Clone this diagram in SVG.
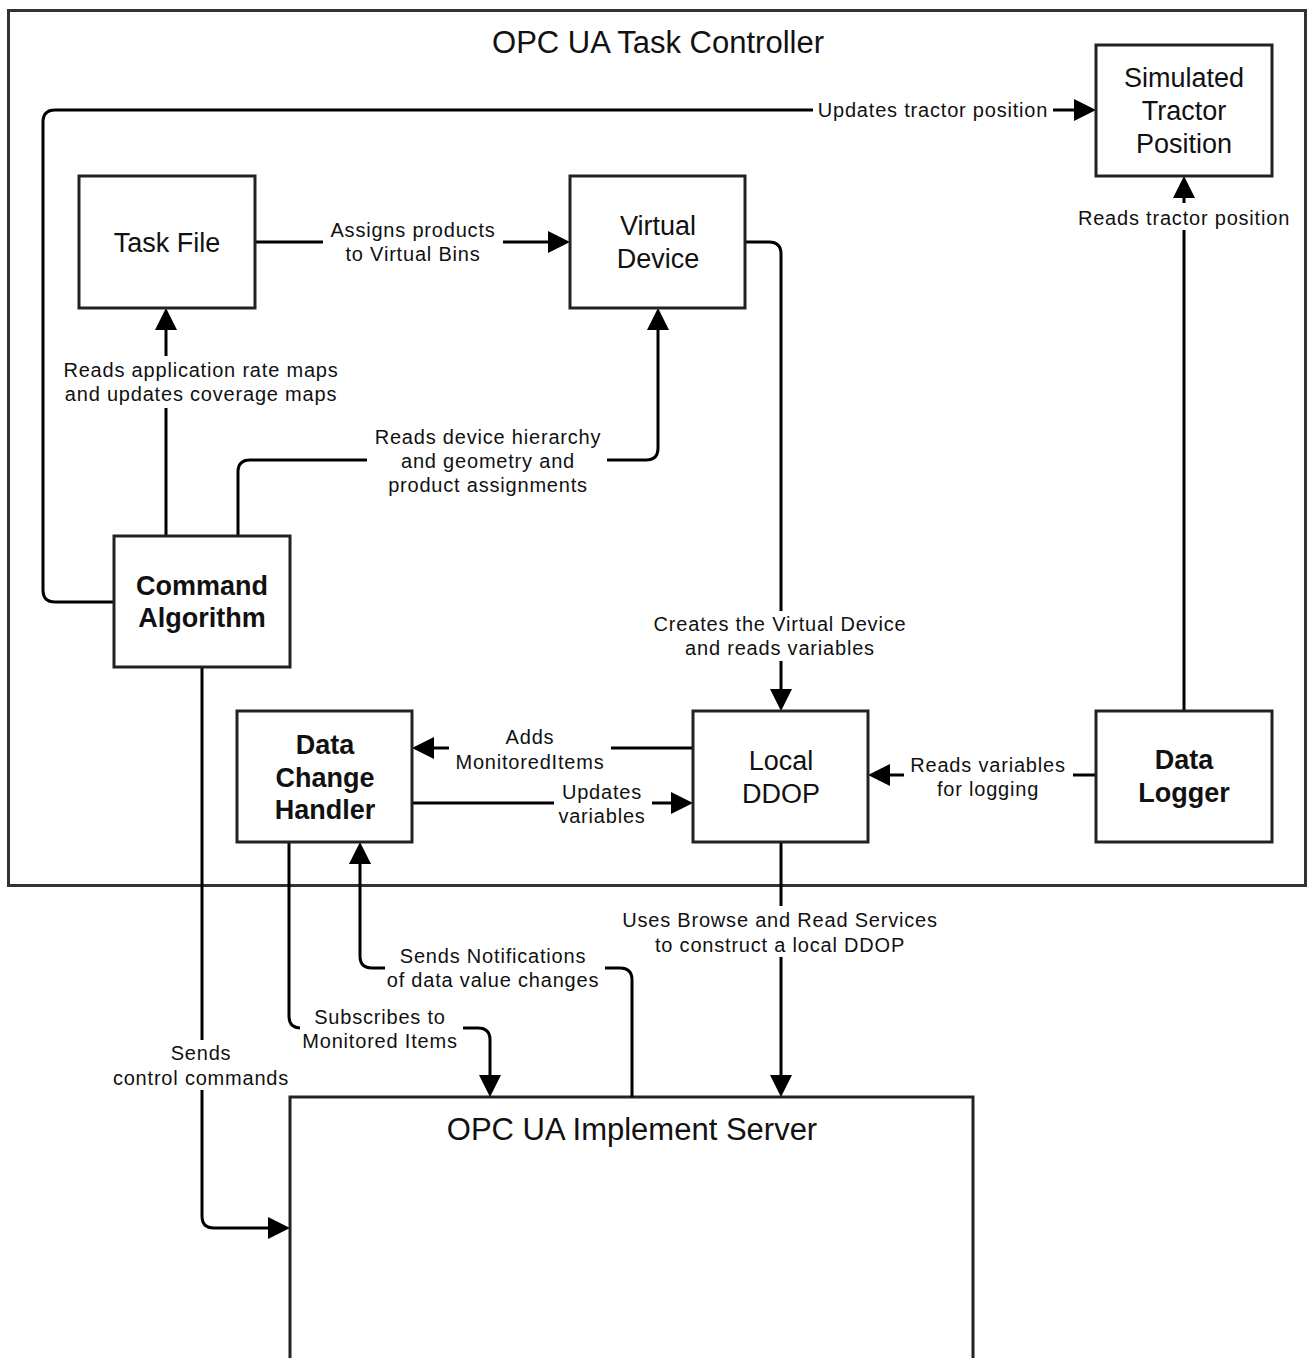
<svg xmlns="http://www.w3.org/2000/svg" width="1307" height="1358" viewBox="0 0 1307 1358">
<defs>
<style>
.box{fill:#fff;stroke:#222;stroke-width:3}
.frame{fill:none;stroke:#333;stroke-width:3}
.conn{fill:none;stroke:#000;stroke-width:3}
.bg{fill:#fff;stroke:none}
.lbl{font-family:"Liberation Sans",Arial,sans-serif;font-size:20px;letter-spacing:0.8px;text-anchor:middle;fill:#111}
.nt{font-family:"Liberation Sans",Arial,sans-serif;font-size:27px;text-anchor:middle;fill:#111}
.nb{font-family:"Liberation Sans",Arial,sans-serif;font-size:27px;font-weight:bold;text-anchor:middle;fill:#111}
.title{font-family:"Liberation Sans",Arial,sans-serif;font-size:31px;text-anchor:middle;fill:#111}
</style>
<marker id="arr" markerUnits="userSpaceOnUse" markerWidth="24" markerHeight="24" refX="18" refY="11" orient="auto">
<path d="M0,0 L22,11 L0,22 Z" fill="#000"/>
</marker>
</defs>
<rect width="1307" height="1358" fill="#fff"/>

<g id="task-controller">
<rect class="frame" x="8.5" y="10.5" width="1297" height="875"/>
<text class="title" x="658" y="53">OPC UA Task Controller</text>
</g>

<g id="server">
<rect class="box" x="290" y="1097" width="683" height="300"/>
<text class="title" x="632" y="1140">OPC UA Implement Server</text>
</g>

<g id="connectors">
<path class="conn" marker-end="url(#arr)" d="M114,602 H55 Q43,602 43,590 V122 Q43,110 55,110 H1092"/>
<path class="conn" marker-end="url(#arr)" d="M255,242 H566"/>
<path class="conn" marker-end="url(#arr)" d="M166,536 V312"/>
<path class="conn" marker-end="url(#arr)" d="M238,536 V472 Q238,460 250,460 H646 Q658,460 658,448 V312"/>
<path class="conn" marker-end="url(#arr)" d="M745,242 H769 Q781,242 781,254 V707"/>
<path class="conn" marker-end="url(#arr)" d="M1184,711 V180"/>
<path class="conn" marker-end="url(#arr)" d="M693,748 H416"/>
<path class="conn" marker-end="url(#arr)" d="M412,803 H689"/>
<path class="conn" marker-end="url(#arr)" d="M1096,775 H872"/>
<path class="conn" marker-end="url(#arr)" d="M781,842 V1093"/>
<path class="conn" marker-end="url(#arr)" d="M632,1097 V980 Q632,968 620,968 H372 Q360,968 360,956 V846"/>
<path class="conn" marker-end="url(#arr)" d="M289,842 V1016 Q289,1028 301,1028 H478 Q490,1028 490,1040 V1093"/>
<path class="conn" marker-end="url(#arr)" d="M202,667 V1216 Q202,1228 214,1228 H286"/>
</g>

<g id="labels">
<rect class="bg" x="813" y="98" width="240" height="26"/>
<text class="lbl" x="933" y="117">Updates tractor position</text>
<rect class="bg" x="323" y="216" width="180" height="50"/>
<text class="lbl" x="413" y="237">Assigns products</text>
<text class="lbl" x="413" y="261">to Virtual Bins</text>
<rect class="bg" x="58" y="356" width="286" height="52"/>
<text class="lbl" x="201" y="377">Reads application rate maps</text>
<text class="lbl" x="201" y="401">and updates coverage maps</text>
<rect class="bg" x="367" y="423" width="240" height="74"/>
<text class="lbl" x="488" y="444">Reads device hierarchy</text>
<text class="lbl" x="488" y="468">and geometry and</text>
<text class="lbl" x="488" y="492">product assignments</text>
<rect class="bg" x="1073" y="203" width="222" height="27"/>
<text class="lbl" x="1184" y="225">Reads tractor position</text>
<rect class="bg" x="652" y="611" width="256" height="50"/>
<text class="lbl" x="780" y="631">Creates the Virtual Device</text>
<text class="lbl" x="780" y="655">and reads variables</text>
<rect class="bg" x="449" y="724" width="162" height="50"/>
<text class="lbl" x="530" y="744">Adds</text>
<text class="lbl" x="530" y="769">MonitoredItems</text>
<rect class="bg" x="554" y="779" width="98" height="49"/>
<text class="lbl" x="602" y="799">Updates</text>
<text class="lbl" x="602" y="823">variables</text>
<rect class="bg" x="904" y="752" width="169" height="49"/>
<text class="lbl" x="988" y="772">Reads variables</text>
<text class="lbl" x="988" y="796">for logging</text>
<rect class="bg" x="616" y="906" width="328" height="51"/>
<text class="lbl" x="780" y="927">Uses Browse and Read Services</text>
<text class="lbl" x="780" y="952">to construct a local DDOP</text>
<rect class="bg" x="385" y="943" width="220" height="49"/>
<text class="lbl" x="493" y="963">Sends Notifications</text>
<text class="lbl" x="493" y="987">of data value changes</text>
<rect class="bg" x="300" y="1005" width="163" height="48"/>
<text class="lbl" x="380" y="1024">Subscribes to</text>
<text class="lbl" x="380" y="1048">Monitored Items</text>
<rect class="bg" x="108" y="1040" width="188" height="50"/>
<text class="lbl" x="201" y="1060">Sends</text>
<text class="lbl" x="201" y="1085">control commands</text>
</g>

<g id="simulated-tractor-position">
<rect class="box" x="1096" y="45" width="176" height="131"/>
<text class="nt" x="1184" y="87">Simulated</text>
<text class="nt" x="1184" y="120">Tractor</text>
<text class="nt" x="1184" y="153">Position</text>
</g>

<g id="task-file">
<rect class="box" x="79" y="176" width="176" height="132"/>
<text class="nt" x="167" y="252">Task File</text>
</g>

<g id="virtual-device">
<rect class="box" x="570" y="176" width="175" height="132"/>
<text class="nt" x="658" y="235">Virtual</text>
<text class="nt" x="658" y="268">Device</text>
</g>

<g id="command-algorithm">
<rect class="box" x="114" y="536" width="176" height="131"/>
<text class="nb" x="202" y="595">Command</text>
<text class="nb" x="202" y="627">Algorithm</text>
</g>

<g id="data-change-handler">
<rect class="box" x="237" y="711" width="175" height="131"/>
<text class="nb" x="325" y="754">Data</text>
<text class="nb" x="325" y="787">Change</text>
<text class="nb" x="325" y="819">Handler</text>
</g>

<g id="local-ddop">
<rect class="box" x="693" y="711" width="175" height="131"/>
<text class="nt" x="781" y="770">Local</text>
<text class="nt" x="781" y="803">DDOP</text>
</g>

<g id="data-logger">
<rect class="box" x="1096" y="711" width="176" height="131"/>
<text class="nb" x="1184" y="769">Data</text>
<text class="nb" x="1184" y="802">Logger</text>
</g>
</svg>
